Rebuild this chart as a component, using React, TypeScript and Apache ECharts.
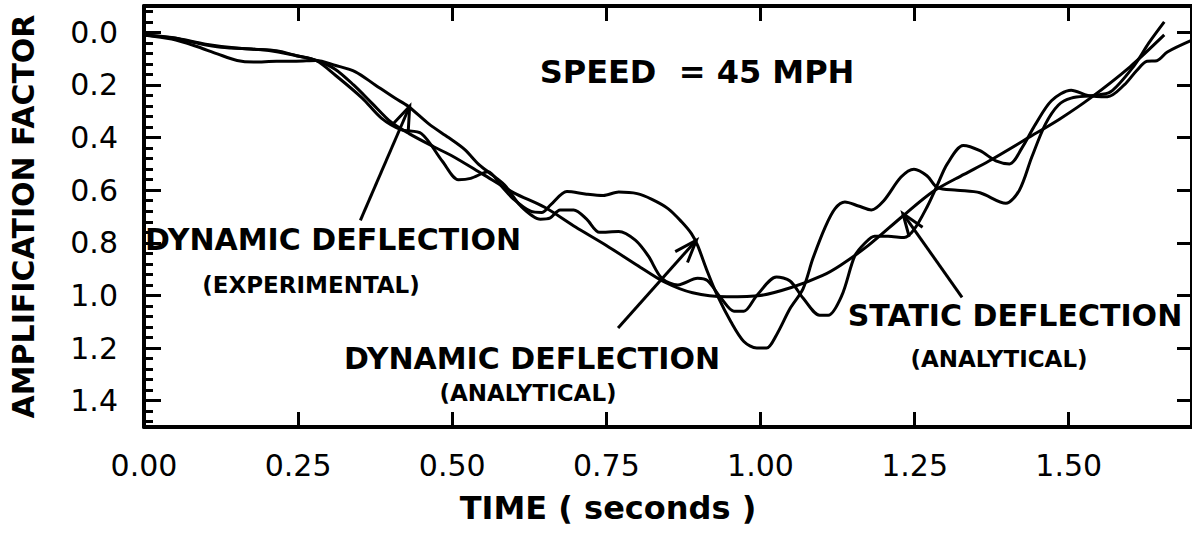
import { useEffect, useRef } from "react";
import * as echarts from "echarts";

// ---- Data (time in seconds, amplification factor) ----
const staticDeflection: [number, number][] = [
  [0.0, 0.01], [0.05, 0.022], [0.1, 0.045], [0.15, 0.06], [0.2, 0.068], [0.25, 0.09],
  [0.28, 0.107], [0.31, 0.14], [0.34, 0.2], [0.37, 0.27], [0.4, 0.34], [0.43, 0.385],
  [0.47, 0.435], [0.5, 0.47], [0.55, 0.54], [0.6, 0.61], [0.65, 0.665], [0.7, 0.74],
  [0.75, 0.81], [0.8, 0.885], [0.845, 0.95], [0.89, 0.99], [0.945, 1.005], [1.0, 1.0],
  [1.05, 0.97], [1.1, 0.925], [1.13, 0.885], [1.175, 0.81], [1.23, 0.7], [1.28, 0.605],
  [1.33, 0.54], [1.37, 0.49], [1.435, 0.4], [1.485, 0.33], [1.535, 0.25], [1.6, 0.13],
  [1.655, 0.01],
];

const dynamicAnalytical: [number, number][] = [
  [0.0, 0.01], [0.045, 0.02], [0.082, 0.039], [0.125, 0.057], [0.178, 0.064], [0.215, 0.07],
  [0.247, 0.089], [0.279, 0.107], [0.311, 0.164], [0.354, 0.25], [0.385, 0.326], [0.417, 0.37],
  [0.45, 0.385], [0.484, 0.49], [0.51, 0.56], [0.53, 0.555], [0.558, 0.53], [0.58, 0.585],
  [0.6, 0.635], [0.627, 0.68], [0.645, 0.685], [0.66, 0.655], [0.686, 0.605], [0.718, 0.615],
  [0.745, 0.62], [0.77, 0.607], [0.8, 0.613], [0.824, 0.635], [0.85, 0.67], [0.872, 0.72],
  [0.888, 0.765], [0.898, 0.81], [0.914, 0.91], [0.93, 1.0], [0.952, 1.1], [0.973, 1.175],
  [0.994, 1.2], [1.01, 1.2], [1.026, 1.15], [1.048, 1.05], [1.069, 0.975], [1.085, 0.86],
  [1.105, 0.74], [1.121, 0.67], [1.137, 0.645], [1.159, 0.66], [1.18, 0.675], [1.2, 0.64],
  [1.228, 0.55], [1.249, 0.52], [1.27, 0.545], [1.287, 0.59], [1.319, 0.6], [1.356, 0.61],
  [1.398, 0.65], [1.42, 0.6], [1.44, 0.475], [1.462, 0.35], [1.483, 0.277], [1.504, 0.25],
  [1.54, 0.24], [1.568, 0.226], [1.606, 0.127], [1.63, 0.04], [1.655, -0.04],
];

const dynamicExperimental: [number, number][] = [
  [0.0, 0.01], [0.045, 0.026], [0.082, 0.051], [0.119, 0.082], [0.151, 0.107], [0.178, 0.113],
  [0.215, 0.11], [0.247, 0.11], [0.279, 0.107], [0.311, 0.126], [0.343, 0.15], [0.375, 0.2],
  [0.407, 0.25], [0.428, 0.28], [0.463, 0.35], [0.494, 0.4], [0.52, 0.445], [0.542, 0.5],
  [0.558, 0.53], [0.585, 0.58], [0.611, 0.66], [0.643, 0.71], [0.659, 0.705], [0.675, 0.675],
  [0.697, 0.675], [0.718, 0.71], [0.739, 0.76], [0.77, 0.757], [0.797, 0.79], [0.818, 0.85],
  [0.84, 0.935], [0.866, 0.96], [0.898, 0.935], [0.914, 0.944], [0.936, 1.01], [0.957, 1.06],
  [0.973, 1.06], [0.994, 1.0], [1.026, 0.93], [1.048, 0.945], [1.069, 1.01], [1.096, 1.075],
  [1.11, 1.075], [1.132, 1.0], [1.153, 0.85], [1.17, 0.8], [1.185, 0.775], [1.207, 0.775],
  [1.233, 0.78], [1.249, 0.75], [1.271, 0.66], [1.287, 0.58], [1.303, 0.5], [1.329, 0.43],
  [1.356, 0.45], [1.383, 0.49], [1.404, 0.5], [1.424, 0.44], [1.446, 0.35], [1.472, 0.26],
  [1.504, 0.22], [1.531, 0.24], [1.563, 0.245], [1.59, 0.2], [1.61, 0.146], [1.627, 0.11],
  [1.643, 0.108], [1.66, 0.075], [1.7, 0.03],
];

const xTickLabels = ["0.00", "0.25", "0.50", "0.75", "1.00", "1.25", "1.50"];
const yTickLabels = ["0.0", "0.2", "0.4", "0.6", "0.8", "1.0", "1.2", "1.4"];

// Arrows: [tail, tip] in data coordinates
const arrows: [number, number][][] = [
  [[0.351, 0.715], [0.431, 0.281]],
  [[0.769, 1.124], [0.896, 0.79]],
  [[1.327, 1.007], [1.231, 0.689]],
];

const FONT = "DejaVu Sans";
const BLACK = "#000";

export default function App() {
  const ref = useRef<HTMLDivElement>(null);

  useEffect(() => {
    const el = ref.current!;
    const chart = echarts.init(el, null, { renderer: "svg" });

    const yBase = {
      type: "value",
      min: -0.1,
      max: 1.5,
      inverse: true,
      splitLine: { show: false },
    };

    const lineSeries = (name: string, data: [number, number][]) => ({
      name,
      type: "line",
      data,
      xAxisIndex: 0,
      yAxisIndex: 0,
      showSymbol: false,
      symbol: "none",
      smooth: 0.3,
      lineStyle: { color: BLACK, width: 3 },
      z: 3,
    });

    chart.setOption({
      animation: false,
      backgroundColor: "#ffffff",
      grid: { left: 131, top: 6, width: 1066, height: 421, containLabel: false },
      xAxis: [
        {
          type: "value",
          position: "bottom",
          min: 0,
          max: 1.7,
          interval: 0.25,
          axisLine: { show: true, onZero: false, lineStyle: { color: BLACK, width: 4 } },
          axisTick: { show: true, inside: true, length: 15, lineStyle: { color: BLACK, width: 3 } },
          axisLabel: {
            margin: 23,
            showMaxLabel: false,
            color: BLACK,
            fontFamily: FONT,
            fontSize: 30,
            formatter: (v: number) => xTickLabels[Math.round(v / 0.25)] ?? "",
          },
          splitLine: { show: false },
        },
        {
          type: "value",
          position: "top",
          min: 0,
          max: 1.7,
          interval: 0.25,
          axisLine: { show: true, onZero: false, lineStyle: { color: BLACK, width: 4 } },
          axisTick: { show: true, inside: true, length: 15, lineStyle: { color: BLACK, width: 3 } },
          axisLabel: { show: false },
          splitLine: { show: false },
        },
      ],
      yAxis: [
        {
          ...yBase,
          position: "left",
          splitNumber: 8,
          minInterval: 0.2,
          maxInterval: 0.2,
          axisLine: { show: true, onZero: false, lineStyle: { color: BLACK, width: 4 } },
          axisTick: { show: true, inside: true, length: 17, lineStyle: { color: BLACK, width: 3 } },
          axisLabel: {
            margin: 26,
            showMinLabel: false,
            showMaxLabel: false,
            color: BLACK,
            fontFamily: FONT,
            fontSize: 30,
            formatter: (v: number) => yTickLabels[Math.round(v / 0.2)] ?? "",
          },
          name: "AMPLIFICATION FACTOR",
          nameLocation: "middle",
          nameGap: 106,
          nameRotate: 90,
          nameTextStyle: { color: BLACK, fontFamily: FONT, fontWeight: "bold", fontSize: 30 },
        },
        {
          ...yBase,
          position: "left",
          splitNumber: 40,
          minInterval: 0.04,
          maxInterval: 0.04,
          axisLine: { show: false },
          axisTick: { show: true, inside: true, length: 9, lineStyle: { color: BLACK, width: 3 } },
          axisLabel: { show: false },
        },
        {
          ...yBase,
          position: "right",
          splitNumber: 8,
          minInterval: 0.2,
          maxInterval: 0.2,
          axisLine: { show: true, onZero: false, lineStyle: { color: BLACK, width: 4 } },
          axisTick: { show: true, inside: true, length: 15, lineStyle: { color: BLACK, width: 3 } },
          axisLabel: { show: false },
        },
      ],
      series: [
        lineSeries("Static deflection (analytical)", staticDeflection),
        lineSeries("Dynamic deflection (analytical)", dynamicAnalytical),
        lineSeries("Dynamic deflection (experimental)", dynamicExperimental),
      ],
    });

    const toPx = (p: number[]) =>
      chart.convertToPixel({ xAxisIndex: 0, yAxisIndex: 0 }, p) as number[];

    const text = (s: string, x: number, y: number, size: number) => ({
      type: "text",
      x,
      y,
      z: 10,
      style: {
        text: s,
        fill: BLACK,
        fontFamily: FONT,
        fontWeight: "bold",
        fontSize: size,
        align: "center",
        verticalAlign: "middle",
      },
    });

    const graphics: any[] = [
      text("SPEED  = 45 MPH", 697, 72, 32),
      text("DYNAMIC DEFLECTION", 333, 239, 30),
      text("(EXPERIMENTAL)", 311, 285, 23),
      text("DYNAMIC DEFLECTION", 532, 358, 30),
      text("(ANALYTICAL)", 528, 393, 23),
      text("STATIC DEFLECTION", 1015, 315, 30),
      text("(ANALYTICAL)", 999, 359, 23),
      text("TIME ( seconds )", 608, 508, 32),
    ];

    arrows.forEach(([tailD, tipD]) => {
      const tail = toPx(tailD);
      const tip = toPx(tipD);
      const dx = tip[0] - tail[0];
      const dy = tip[1] - tail[1];
      const len = Math.hypot(dx, dy);
      const ux = dx / len;
      const uy = dy / len;
      const L = 24;
      const a = (20 * Math.PI) / 180;
      const barb = (s: number) => {
        const c = Math.cos(s * a);
        const sn = Math.sin(s * a);
        const rx = ux * c - uy * sn;
        const ry = ux * sn + uy * c;
        return [tip[0] - L * rx, tip[1] - L * ry];
      };
      graphics.push({
        type: "line",
        z: 9,
        shape: { x1: tail[0], y1: tail[1], x2: tip[0], y2: tip[1] },
        style: { stroke: BLACK, lineWidth: 3 },
      });
      graphics.push({
        type: "polyline",
        z: 9,
        shape: { points: [barb(1), tip, barb(-1)] },
        style: { stroke: BLACK, lineWidth: 3, fill: "none" },
      });
    });

    chart.setOption({ graphic: graphics });

    return () => {
      chart.dispose();
    };
  }, []);

  return (
    <div
      ref={ref}
      style={{ position: "absolute", left: 0, top: 0, width: 1192, height: 541, background: "#fff" }}
    />
  );
}
